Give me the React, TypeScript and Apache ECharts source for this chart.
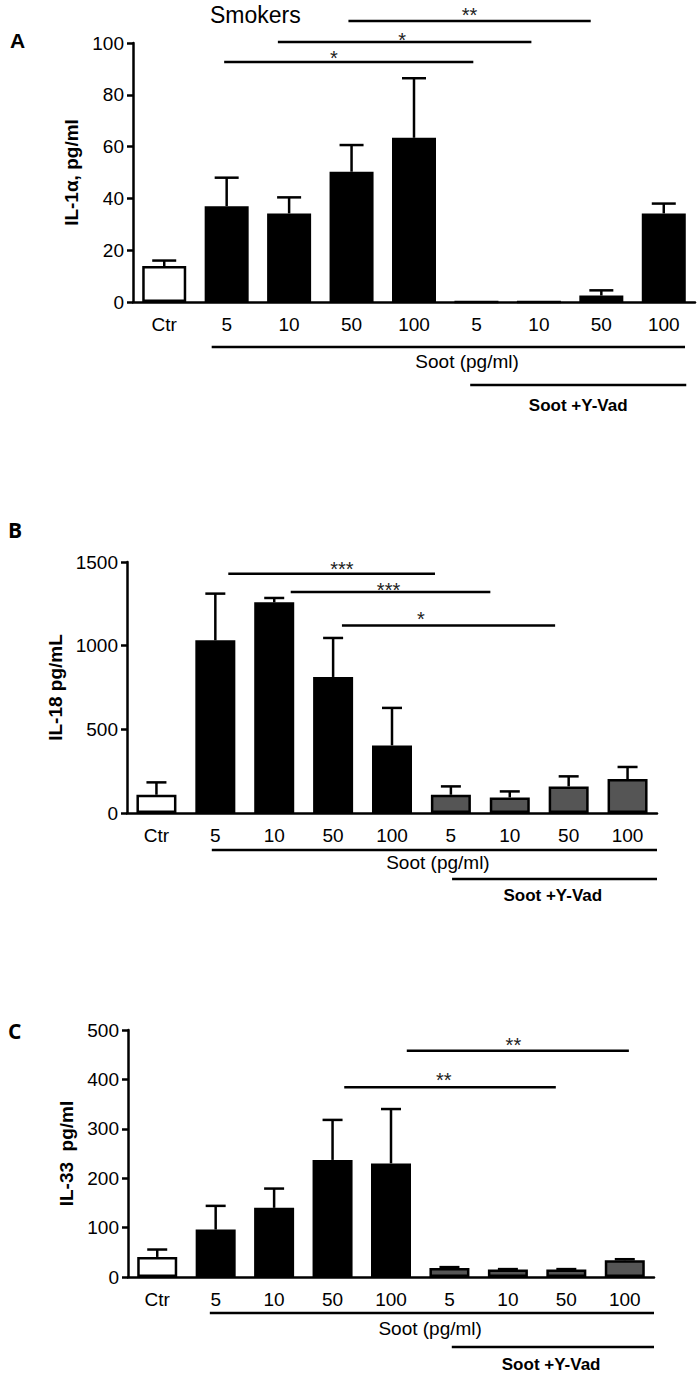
import React, { useEffect, useRef } from 'react';
import * as echarts from 'echarts';

// ---------- data ----------
const categories = ['Ctr', '5', '10', '50', '100', '5', '10', '50', '100'];
const barKinds = ['ctr', 'soot', 'soot', 'soot', 'soot', 'yvad', 'yvad', 'yvad', 'yvad'];

const il1aMean = [13.9, 37, 34.2, 50.3, 63.4, 0, 0, 2.5, 34.2];
const il1aErr = [2.1, 11, 6.2, 10.3, 23, 0, 0, 2, 3.8];

const il18Mean = [109, 1032, 1259, 813, 404, 109, 93, 159, 203];
const il18Err = [74, 279, 26, 233, 224, 50, 36, 60, 72];

const il33Mean = [40.6, 96, 140, 237, 230, 18, 15, 15, 34];
const il33Err = [15, 48, 39, 81, 110, 2, 1, 1, 2];

// significance comparisons: [fromIndex, toIndex, level(y value), label]
const sigA: [number, number, number, string][] = [[1, 5, 92.7, '*'], [2, 6, 100.4, '*'], [3, 7, 108.5, '**']];
const sigB: [number, number, number, string][] = [[1, 5, 1430, '***'], [2, 6, 1321, '***'], [3, 7, 1120, '*']];
const sigC: [number, number, number, string][] = [[4, 8, 458, '**'], [3, 7, 384, '**']];

const yTicksA = { max: 100, interval: 20 };
const yTicksB = { max: 1500, interval: 500 };
const yTicksC = { max: 500, interval: 100 };

// ---------- layout / style ----------
const NARROW = "'Liberation Sans Narrow', 'Arial Narrow', 'Liberation Sans', Arial, sans-serif";
const SANS = "'Liberation Sans', Arial, sans-serif";

const kindColor: Record<string, string> = { ctr: '#ffffff', soot: '#000000', yvad: '#000000' };

type Bracket = { from: number; fromOff: number; to: number; toOff: number; dy: number; text: string; textPos: number; textDy: number; bold: boolean };

const panels = [
  {
    letter: 'A', letterFont: 'bold 21px ' + SANS, letterX: 19, letterY: 43,
    grid: { left: 133, top: 43, width: 562, height: 259 },
    yTicks: yTicksA, name: 'IL-1\u03b1, pg/ml', nameGap: 51,
    mean: il1aMean, err: il1aErr, yvadColor: '#000000', barWidth: 44, cap: 24,
    sig: sigA,
    sigLayout: [
      { fromOff: -0.04, toOff: -0.05, labelFrac: 0.44, labelDy: -9 },
      { fromOff: -0.18, toOff: -0.12, labelFrac: 0.49, labelDy: -7 },
      { fromOff: -0.05, toOff: -0.17, labelFrac: 0.5, labelDy: -11 },
    ],
    brackets: [
      { from: 1, fromOff: -0.24, to: 8, toOff: 0.34, dy: 45, text: 'Soot (pg/ml)', textPos: 4.85, textDy: 59, bold: false },
      { from: 5, fromOff: -0.1, to: 8, toOff: 0.36, dy: 83, text: 'Soot +Y-Vad', textPos: 6.63, textDy: 103, bold: true },
    ] as Bracket[],
  },
  {
    letter: 'B', letterFont: 'bold 21px ' + "'Open Sans', sans-serif", letterX: 17, letterY: 532,
    grid: { left: 127, top: 562, width: 530, height: 251 },
    yTicks: yTicksB, name: 'IL-18 pg/mL', nameGap: 60,
    mean: il18Mean, err: il18Err, yvadColor: '#555555', barWidth: 40, cap: 20,
    sig: sigB,
    sigLayout: [
      { fromOff: 0.22, toOff: -0.27, labelFrac: 0.55, labelDy: -10 },
      { fromOff: 0.28, toOff: -0.33, labelFrac: 0.49, labelDy: -7 },
      { fromOff: 0.15, toOff: -0.23, labelFrac: 0.37, labelDy: -12 },
    ],
    brackets: [
      { from: 1, fromOff: -0.06, to: 8, toOff: 0.5, dy: 37, text: 'Soot (pg/ml)', textPos: 4.78, textDy: 49, bold: false },
      { from: 5, fromOff: 0.02, to: 8, toOff: 0.5, dy: 66, text: 'Soot +Y-Vad', textPos: 6.73, textDy: 82, bold: true },
    ] as Bracket[],
  },
  {
    letter: 'C', letterFont: 'bold 21px ' + "'Open Sans', sans-serif", letterX: 17, letterY: 1033,
    grid: { left: 128, top: 1030, width: 526, height: 247 },
    yTicks: yTicksC, name: 'IL-33  pg/ml', nameGap: 47,
    mean: il33Mean, err: il33Err, yvadColor: '#555555', barWidth: 40, cap: 20,
    sig: sigC,
    sigLayout: [
      { fromOff: 0.27, toOff: 0.07, labelFrac: 0.48, labelDy: -11 },
      { fromOff: 0.2, toOff: -0.18, labelFrac: 0.47, labelDy: -12 },
    ],
    brackets: [
      { from: 1, fromOff: -0.1, to: 8, toOff: 0.5, dy: 36, text: 'Soot (pg/ml)', textPos: 4.67, textDy: 51, bold: false },
      { from: 5, fromOff: 0.04, to: 8, toOff: 0.5, dy: 70, text: 'Soot +Y-Vad', textPos: 6.74, textDy: 87, bold: true },
    ] as Bracket[],
  },
];

function buildOption() {
  const grid: any[] = [];
  const xAxis: any[] = [];
  const yAxis: any[] = [];
  const series: any[] = [];
  const graphic: any[] = [];

  panels.forEach((p, g) => {
    grid.push({ ...p.grid, containLabel: false });
    xAxis.push({
      type: 'category', gridIndex: g, data: categories,
      axisLine: { lineStyle: { color: '#000', width: 2.5 } },
      axisTick: { alignWithLabel: true, length: 7, lineStyle: { color: '#000', width: 2.5 } },
      axisLabel: { color: '#000', fontSize: 19, fontFamily: NARROW, margin: 13, interval: 0 },
      splitLine: { show: false },
    });
    yAxis.push({
      type: 'value', gridIndex: g, min: 0, max: p.yTicks.max, interval: p.yTicks.interval,
      axisLine: { show: true, lineStyle: { color: '#000', width: 2.5 } },
      axisTick: { show: true, length: 6, lineStyle: { color: '#000', width: 2.5 } },
      axisLabel: { color: '#000', fontSize: 19, fontFamily: NARROW, margin: 9, formatter: (v: number) => String(v) },
      splitLine: { show: false },
      name: p.name, nameLocation: 'middle', nameGap: p.nameGap, nameRotate: 90,
      nameTextStyle: { color: '#000', fontWeight: 'bold', fontSize: 19, fontFamily: SANS },
    });

    series.push({
      type: 'bar', xAxisIndex: g, yAxisIndex: g, barWidth: p.barWidth, z: 2,
      data: p.mean.map((v, i) => ({
        value: v,
        itemStyle: {
          color: barKinds[i] === 'yvad' ? p.yvadColor : kindColor[barKinds[i]],
          borderColor: '#000', borderWidth: 2.5,
        },
      })),
    });

    const cap = p.cap;
    series.push({
      type: 'custom', xAxisIndex: g, yAxisIndex: g, z: 3, clip: false,
      encode: { x: 0, y: 1 },
      data: p.mean.map((m, i) => [i, m, p.err[i]]),
      renderItem: (params: any, api: any) => {
        const i = api.value(0), m = api.value(1), e = api.value(2);
        if (!(e > 0)) return null;
        const p0 = api.coord([i, m]);
        const p1 = api.coord([i, m + e]);
        const x = p0[0];
        const st = { stroke: '#000', lineWidth: 2.5 };
        return {
          type: 'group',
          children: [
            { type: 'line', shape: { x1: x, y1: p0[1], x2: x, y2: p1[1] }, style: st },
            { type: 'line', shape: { x1: x - cap / 2, y1: p1[1], x2: x + cap / 2, y2: p1[1] }, style: st },
          ],
        };
      },
    });

    // significance lines
    series.push({
      type: 'custom', xAxisIndex: g, yAxisIndex: g, z: 4, clip: false, silent: true,
      encode: { x: 0, y: 1 },
      data: p.sig.map((s) => [s[0], s[2]]),
      renderItem: (params: any, api: any) => {
        const s = p.sig[params.dataIndex];
        const lay = p.sigLayout[params.dataIndex];
        const band = api.size([1, 0])[0];
        const a = api.coord([s[0], s[2]]);
        const b = api.coord([s[1], s[2]]);
        const x1 = a[0] + lay.fromOff * band;
        const x2 = b[0] + lay.toOff * band;
        const y = a[1];
        return {
          type: 'group',
          children: [
            { type: 'line', shape: { x1, y1: y, x2, y2: y }, style: { stroke: '#000', lineWidth: 2.5 } },
            {
              type: 'text', x: x1 + (x2 - x1) * lay.labelFrac, y: y + lay.labelDy + 5,
              style: { text: s[3], fill: '#222', font: '20px ' + SANS, align: 'center', verticalAlign: 'middle', textAlign: 'center', textVerticalAlign: 'middle' },
            },
          ],
        };
      },
    });

    // group brackets below the axis
    series.push({
      type: 'custom', xAxisIndex: g, yAxisIndex: g, z: 4, clip: false, silent: true,
      encode: { x: 0, y: 1 },
      data: p.brackets.map((b) => [b.from, 0]),
      renderItem: (params: any, api: any) => {
        const b = p.brackets[params.dataIndex];
        const band = api.size([1, 0])[0];
        const a = api.coord([b.from, 0]);
        const c = api.coord([b.to, 0]);
        const c0 = api.coord([0, 0]);
        const x1 = a[0] + b.fromOff * band;
        const x2 = c[0] + b.toOff * band;
        const y0 = a[1];
        return {
          type: 'group',
          children: [
            { type: 'line', shape: { x1, y1: y0 + b.dy, x2, y2: y0 + b.dy }, style: { stroke: '#000', lineWidth: 2.5 } },
            {
              type: 'text', x: c0[0] + b.textPos * band, y: y0 + b.textDy,
              style: {
                text: b.text, fill: '#000',
                font: (b.bold ? 'bold 17px ' + SANS : '19px ' + NARROW),
                align: 'center', verticalAlign: 'middle', textAlign: 'center', textVerticalAlign: 'middle',
              },
            },
          ],
        };
      },
    });

    graphic.push({
      type: 'text', left: p.letterX - 9, top: p.letterY - 13,
      style: { text: p.letter, font: p.letterFont, fill: '#000' },
    });
  });

  graphic.push({
    type: 'text', left: 210, top: 3,
    style: { text: 'Smokers', font: '23px ' + SANS, fill: '#000' },
  });

  return {
    animation: false,
    backgroundColor: '#ffffff',
    grid, xAxis, yAxis, series, graphic,
  };
}

export default function App() {
  const ref = useRef<HTMLDivElement>(null);
  useEffect(() => {
    if (!ref.current) return;
    const chart = echarts.init(ref.current, undefined, { renderer: 'svg' });
    chart.setOption(buildOption() as any);
    return () => chart.dispose();
  }, []);
  return (
    <div
      ref={ref}
      style={{ position: 'absolute', left: 0, top: 0, width: 700, height: 1380, background: '#fff' }}
    />
  );
}
